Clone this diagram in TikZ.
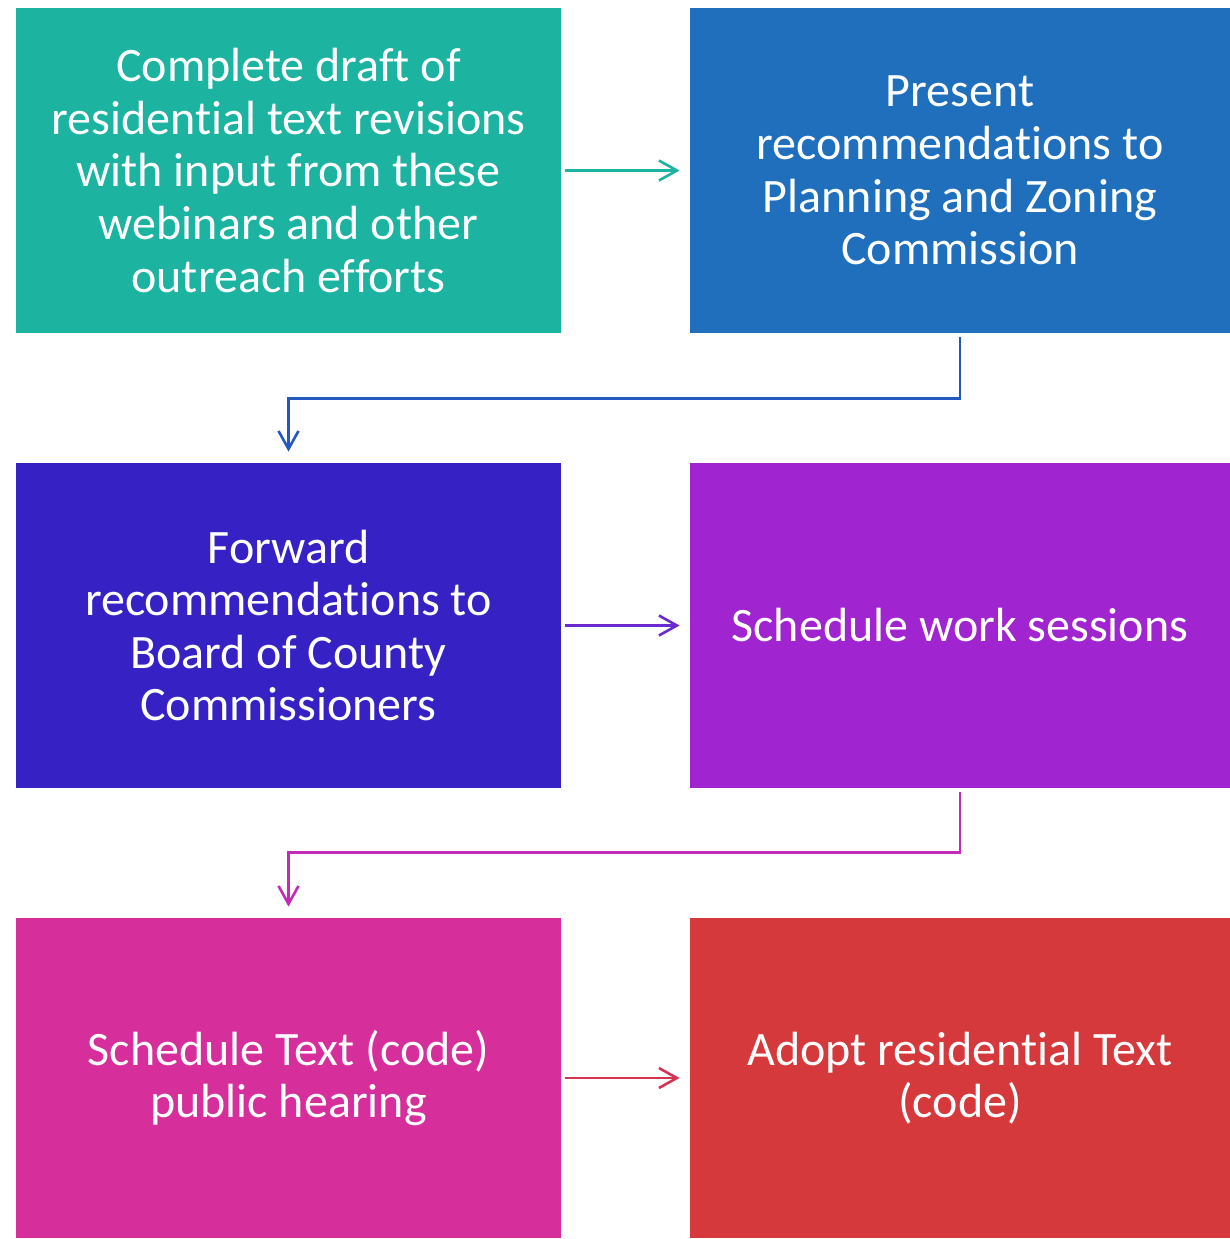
\documentclass[tikz,border=0pt]{standalone}
\usepackage{fontspec}
\setmainfont{Carlito}[Ligatures=NoCommon]
\usetikzlibrary{arrows.meta}
\definecolor{cteal}{HTML}{1CB3A0}
\definecolor{cblue}{HTML}{1F6FBD}
\definecolor{cindigo}{HTML}{3622C4}
\definecolor{cpurple}{HTML}{A024CF}
\definecolor{cmagenta}{HTML}{D62E9B}
\definecolor{cred}{HTML}{D5393C}
\definecolor{abluel}{HTML}{2458BE}
\definecolor{apurple}{HTML}{6B2AD0}
\definecolor{amagenta}{HTML}{C22AB8}
\definecolor{ared}{HTML}{D53352}
\tikzset{
  box/.style={draw=none, text=white, align=center, inner sep=0pt,
    font=\fontsize{24}{26.3}\selectfont},
  wbox/.style={box, minimum width=272.5pt, minimum height=162.5pt},
  nbox/.style={box, minimum width=270pt, minimum height=162.5pt},
  tbox/.style={box, minimum width=272.5pt, minimum height=160pt},
  ubox/.style={box, minimum width=270pt, minimum height=160pt},
  flow/.style={line width=1.3pt, -{Straight Barb[length=9pt,width=10pt,line width=1.3pt]}},
}
\begin{document}
\begin{tikzpicture}[x=0.5pt,y=-0.5pt]
\useasboundingbox (0,0) rectangle (1230,1239);

% step boxes
\node[wbox, fill=cteal] (b1) at (288.5,170.5)
  {Complete draft of\\residential text revisions\\with input from these\\webinars and other\\outreach efforts};
\node[nbox, fill=cblue] (b2) at (960,170.5)
  {Present\\recommendations to\\Planning and Zoning\\Commission};
\node[wbox, fill=cindigo] (b3) at (288.5,625.5)
  {Forward\\recommendations to\\Board of County\\Commissioners};
\node[nbox, fill=cpurple] (b4) at (960,625.5)
  {Schedule work sessions};
\node[tbox, fill=cmagenta] (b5) at (288.5,1078)
  {Schedule Text (code)\\public hearing};
\node[ubox, fill=cred] (b6) at (960,1078)
  {Adopt residential Text\\(code)};

% connectors
\draw[flow, cteal, shorten <=2pt, shorten >=5pt] (b1.east) -- (b2.west);
\draw[flow, abluel, shorten <=2pt, shorten >=5.5pt]
  (b2.south) -- ++(0,65) -| (b3.north);
\draw[flow, apurple, shorten <=2pt, shorten >=5pt] (b3.east) -- (b4.west);
\draw[flow, amagenta, shorten <=2pt, shorten >=5.5pt]
  (b4.south) -- ++(0,64) -| (b5.north);
\draw[flow, ared, shorten <=2pt, shorten >=5pt] (b5.east) -- (b6.west);
\end{tikzpicture}
\end{document}
